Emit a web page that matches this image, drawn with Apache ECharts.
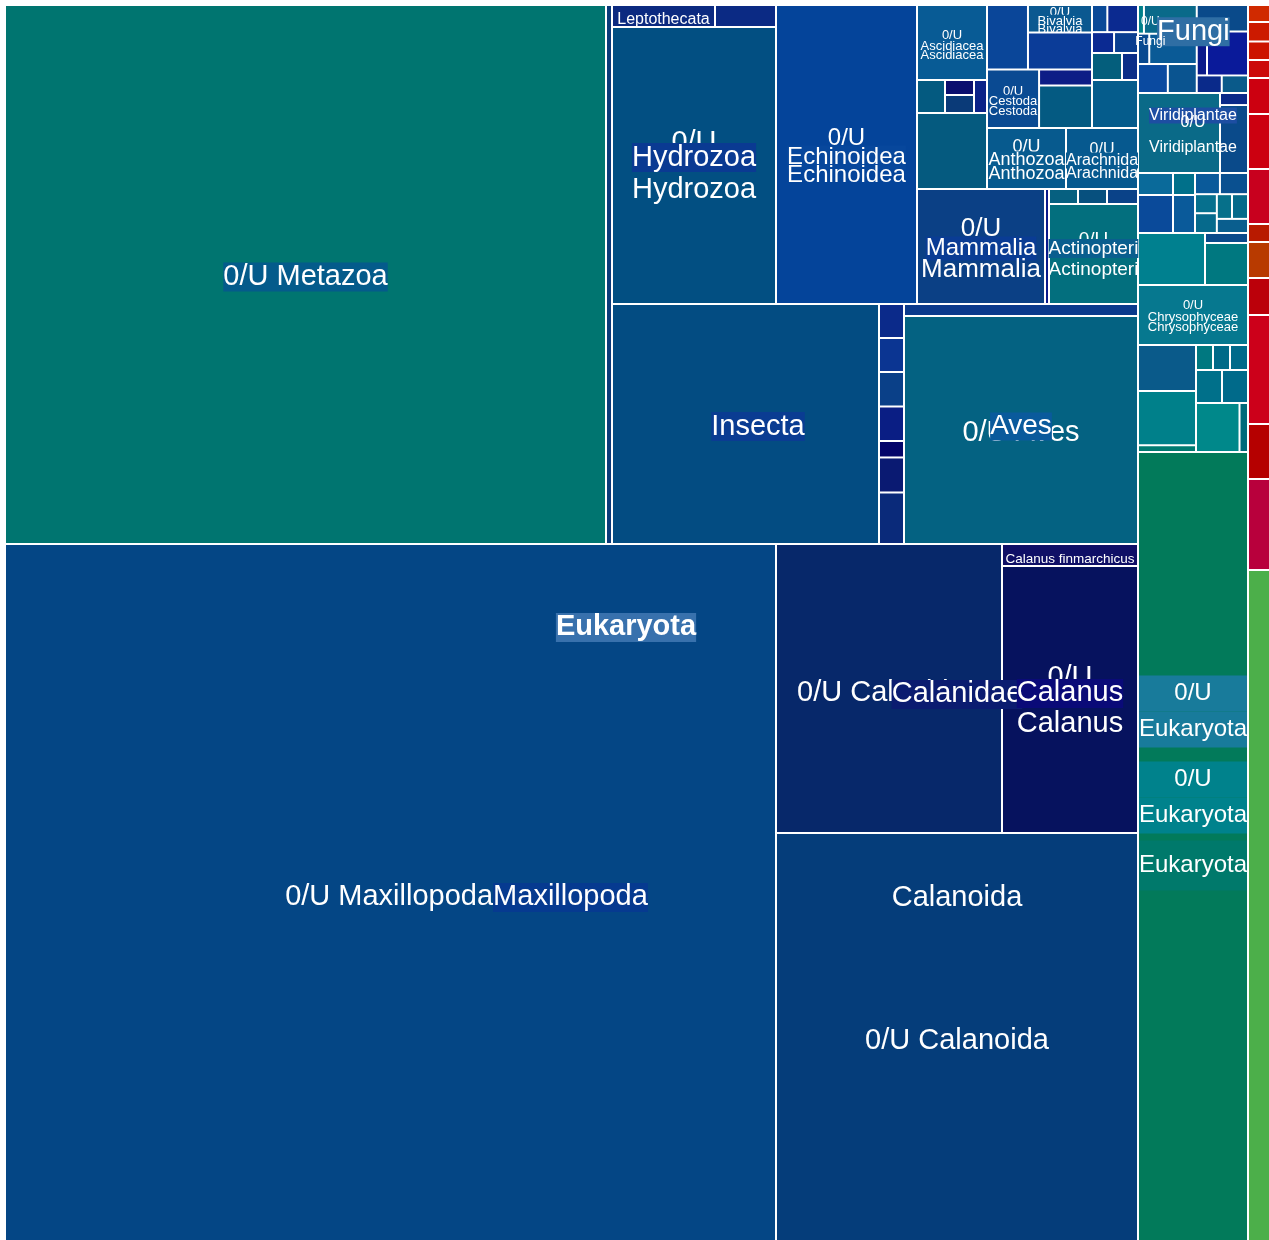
<!DOCTYPE html>
<html>
<head>
<meta charset="utf-8">
<title>Eukaryota treemap</title>
<script src="https://cdn.jsdelivr.net/npm/echarts@6/dist/echarts.min.js"></script>
<style>
  html, body { margin: 0; padding: 0; background: #fff; }
  #chart { width: 1269px; height: 1240px; }
</style>
</head>
<body>
<div id="chart"></div>
<script>
// values (relative cell areas)
var metazoaBase = [['0/U Metazoa', 323939], ['Metazoa a', 3234]];
var hydrozoa = [['Leptothecata', 2266], ['Hydrozoa a', 1342], ['0/U Hydrozoa', 45428]];
var echinoidea = [['0/U Echinoidea', 42159]];
var ascidiacea = [['0/U Ascidiacea', 5250]];
var smallRow = [['Metazoa b', 924], ['Metazoa e', 429]];
var smallPair = [['Metazoa c', 435], ['Metazoa d', 522]];
var smallTeal = [['Metazoa f', 5320]];
var bivalviaCol = [['Metazoa j', 2640], ['0/U Bivalvia', 1760], ['Metazoa i', 2365]];
var cestodaCol = [['0/U Cestoda', 3050], ['Metazoa g', 850], ['Metazoa h', 2250]];
var smallCol = [['Metazoa k', 416], ['Metazoa l', 832], ['Metazoa m', 460], ['Metazoa n', 500],
                ['Metazoa o', 810], ['Metazoa p', 432], ['Metazoa q', 2208]];
var anthozoaRow = [['0/U Anthozoa', 4819], ['0/U Arachnida', 4392]];
var mammalia = [['0/U Mammalia', 14720], ['Metazoa r', 460]];
var actinopteri = [['Metazoa s', 435], ['Metazoa t', 435], ['Metazoa u', 465], ['0/U Actinopteri', 8900]];
var insecta = [['0/U Insecta', 64080], ['Insecta a', 850], ['Insecta b', 850], ['Insecta c', 862],
               ['Insecta d', 862], ['Insecta e', 412], ['Insecta f', 875], ['Insecta g', 1288]];
var aves = [['Aves a', 2808], ['0/U Aves', 53352]];
var maxillopoda = [['0/U Maxillopoda', 537387]];
var calanidae = [['0/U Calanidae', 65314]];
var calanus = [['Calanus finmarchicus', 2992], ['0/U Calanus', 36312]];
var calanoida = [['0/U Calanoida', 147696]];
var fungi = [['Fungi a', 170], ['0/U Fungi', 1512], ['Fungi b', 342], ['Fungi c', 1444], ['Fungi d', 864], ['Fungi e', 838]];
var fungiNext = [['Eukaryota a', 1353], ['Eukaryota b', 451], ['Eukaryota c', 1804], ['Eukaryota d', 440], ['Eukaryota e', 462]];
var viridiplantae = [['0/U Viridiplantae', 6560], ['Viridiplantae a', 338], ['Viridiplantae b', 1902]];
var bandA1 = [['Eukaryota f', 770], ['Eukaryota g', 1330]];
var bandA2 = [['Eukaryota h', 484], ['Eukaryota i', 836]];
var bandA3 = [['Eukaryota j', 528], ['Eukaryota k', 594], ['Eukaryota l', 416], ['Eukaryota m', 432],
              ['Eukaryota n', 374], ['Eukaryota o', 396], ['Eukaryota p', 440]];
var bandB = [['Eukaryota q', 3484], ['Eukaryota r', 430], ['Eukaryota s', 1806]];
var chrysophyceae = [['0/U Chrysophyceae', 6600]];
var lowLeft = [['Eukaryota t', 2668], ['Eukaryota u', 3146], ['Eukaryota v', 392]];
var lowTriple = [['Eukaryota w', 425], ['Eukaryota x', 425], ['Eukaryota y', 450]];
var lowPair = [['Eukaryota z', 858], ['Eukaryota aa', 858]];
var lowRest = [['Eukaryota ab', 2132], ['Eukaryota ac', 416]];
var eukaryota = [['0/U Eukaryota', 86790]];
var bacteria = [['Bacteria 1', 374], ['Bacteria 2', 429], ['Bacteria 3', 407], ['Bacteria 4', 396],
                ['Bacteria 5', 792], ['Bacteria 6', 1210], ['Bacteria 7', 1210], ['Bacteria 8', 396],
                ['Bacteria 9', 792], ['Bacteria 10', 814], ['Bacteria 11', 2398], ['Bacteria 12', 1210],
                ['Bacteria 13', 2002]];
var other = [['other', 14762]];

var FONT = '"Liberation Sans", Arial, sans-serif';

var leafColors = {
  '0/U Metazoa': '#007570', 'Metazoa a': '#0a3a7a',
  'Leptothecata': '#0c2a80', 'Hydrozoa a': '#0b2a84', '0/U Hydrozoa': '#024f82',
  '0/U Echinoidea': '#04449a', '0/U Ascidiacea': '#085b95',
  'Metazoa b': '#045a80', 'Metazoa c': '#0b0f6e', 'Metazoa d': '#0a3a78', 'Metazoa e': '#0b2288', 'Metazoa f': '#055a7f',
  'Metazoa g': '#0d1d86', 'Metazoa h': '#045a82', '0/U Cestoda': '#0a4a92',
  '0/U Bivalvia': '#0b5890', 'Metazoa i': '#0b3c98', 'Metazoa j': '#0a4699',
  'Metazoa k': '#0a4a98', 'Metazoa l': '#0b2a90', 'Metazoa m': '#0b2a92', 'Metazoa n': '#0a3e90',
  'Metazoa o': '#045e7c', 'Metazoa p': '#0b2e88', 'Metazoa q': '#055c8c',
  '0/U Anthozoa': '#075a8e', '0/U Arachnida': '#06598f',
  '0/U Mammalia': '#0b4085', 'Metazoa r': '#0a1a8c',
  'Metazoa s': '#066080', 'Metazoa t': '#07507e', 'Metazoa u': '#0a4288', '0/U Actinopteri': '#036f7e',
  '0/U Insecta': '#034c82', 'Insecta a': '#0b2a8a', 'Insecta b': '#0b3592', 'Insecta c': '#0a4088',
  'Insecta d': '#0a1e84', 'Insecta e': '#05066a', 'Insecta f': '#0a1a72', 'Insecta g': '#0a2a7a',
  'Aves a': '#0b3a8c', '0/U Aves': '#046282',
  '0/U Maxillopoda': '#044685', '0/U Calanidae': '#07286a', 'Calanus finmarchicus': '#0f0f66',
  '0/U Calanus': '#06125e', '0/U Calanoida': '#053d7a',
  'Fungi a': '#00808a', '0/U Fungi': '#0a6a8a', 'Fungi b': '#0a4a90', 'Fungi c': '#0a5a96', 'Fungi d': '#0a4aa0', 'Fungi e': '#0a5490',
  'Eukaryota a': '#0a4a8a', 'Eukaryota b': '#0a1a8a', 'Eukaryota c': '#0a1a9a', 'Eukaryota d': '#0a2a8a', 'Eukaryota e': '#0a5a8a',
  '0/U Viridiplantae': '#0a6a88', 'Viridiplantae a': '#0a2888', 'Viridiplantae b': '#0a4a8a',
  'Eukaryota f': '#0a6a9a', 'Eukaryota g': '#0a4a9a', 'Eukaryota h': '#00708a', 'Eukaryota i': '#0a5a9a',
  'Eukaryota j': '#0a5a9a', 'Eukaryota k': '#0a5090', 'Eukaryota l': '#06708e', 'Eukaryota m': '#066a8c',
  'Eukaryota n': '#06708a', 'Eukaryota o': '#056a8a', 'Eukaryota p': '#0a5e8e',
  'Eukaryota q': '#00808f', 'Eukaryota r': '#0a4a8a', 'Eukaryota s': '#007880',
  '0/U Chrysophyceae': '#06788f',
  'Eukaryota t': '#0a5a8a', 'Eukaryota u': '#00808a', 'Eukaryota v': '#007a70',
  'Eukaryota w': '#007880', 'Eukaryota x': '#006a88', 'Eukaryota y': '#006a8a',
  'Eukaryota z': '#00708a', 'Eukaryota aa': '#006a8a', 'Eukaryota ab': '#00888a', 'Eukaryota ac': '#006a7a',
  '0/U Eukaryota': '#027a5a',
  'Bacteria 1': '#d02a00', 'Bacteria 2': '#cc1a00', 'Bacteria 3': '#cc1400', 'Bacteria 4': '#cc0a0a',
  'Bacteria 5': '#cc0010', 'Bacteria 6': '#cc0010', 'Bacteria 7': '#c8001e', 'Bacteria 8': '#b81a00',
  'Bacteria 9': '#b83a00', 'Bacteria 10': '#bb000a', 'Bacteria 11': '#cc001a', 'Bacteria 12': '#b50000',
  'Bacteria 13': '#b8003c',
  'other': '#4caf4a'
};

// label lines: each token {t, fs, lh, bg, w, h, va, bold}; dy = block centre offset from cell centre
function tri(name, fs, l1, l2, l3, bg, dy) {
  return { dy: dy, lines: [[{ t: '0/U', fs: fs, lh: l1 }], [{ t: name, fs: fs, lh: l2, bg: bg }], [{ t: name, fs: fs, lh: l3 }]] };
}
var labelSpecs = {
  '0/U Metazoa': { dy: 0, lines: [[{ t: '0/U Metazoa', fs: 29, lh: 32, bg: '#045b8b' }]] },
  '0/U Maxillopoda': { dy: -132.5, lines: [
    [{ t: ' ', w: 471, lh: 34 }, { t: 'Eukaryota', fs: 29, lh: 34, bold: true, bg: '#3871ad' }],
    [{ t: ' ', lh: 236 }],
    [{ t: ' ', w: 152, lh: 34 }, { t: '0/U Maxillopoda', fs: 29, lh: 34 }, { t: 'Maxillopoda', fs: 29, lh: 34, bg: '#063a90' }]
  ] },
  '0/U Calanoida': { dy: -69.5, lines: [
    [{ t: 'Calanoida', fs: 29, lh: 34 }], [{ t: ' ', lh: 109 }], [{ t: '0/U Calanoida', fs: 29, lh: 34 }]
  ] },
  '0/U Calanidae': { dy: 3, lines: [
    [{ t: '0/U Calanidae', fs: 29, lh: 1 }],
    [{ t: ' ', w: 136, lh: 1 }, { t: 'Calanidae', fs: 29, lh: 1, bg: '#0b1c70' }]
  ] },
  'Calanus finmarchicus': { dy: 2, lines: [[{ t: 'Calanus finmarchicus', fs: 13.5, lh: 15 }]] },
  '0/U Calanus': tri('Calanus', 29, 2, 28, 34, '#0a0a78', 7.5),
  '0/U Insecta': { dy: 0, lines: [[{ t: ' ', w: 25, lh: 32 }, { t: 'Insecta', fs: 29, lh: 32, bg: '#0a3c92' }]] },
  '0/U Aves': { dy: 3.5, lines: [
    [{ t: '0/U Aves', fs: 29, lh: 2 }],
    [{ t: 'Aves', fs: 28, lh: 7, va: 'bottom', bg: '#0a5a9c' }]
  ] },
  '0/U Hydrozoa': tri('Hydrozoa', 29, 2, 28, 36, '#0a3a92', 6.5),
  'Leptothecata': { dy: 1, lines: [[{ t: 'Leptothecata', fs: 16, lh: 18 }]] },
  '0/U Echinoidea': tri('Echinoidea', 24, 10, 28, 8, '#07479c', -0.5),
  '0/U Ascidiacea': tri('Ascidiacea', 13, 8, 14, 4, '#0a5c98', -0.5),
  '0/U Bivalvia': tri('Bivalvia', 13, 7, 10, 7, '#0b5a92', 0),
  '0/U Cestoda': tri('Cestoda', 13, 8, 12, 8, '#0a4c94', 0),
  '0/U Anthozoa': tri('Anthozoa', 18, 8, 18, 10, '#085c90', 0.5),
  '0/U Arachnida': tri('Arachnida', 16, 6, 16, 10, '#075a90', 1.5),
  '0/U Mammalia': { dy: 0.5, lines: [
    [{ t: '0/U', fs: 26, lh: 14 }], [{ t: 'Mammalia', fs: 24, lh: 26, bg: '#0a3c94' }], [{ t: 'Mammalia', fs: 26, lh: 16 }]
  ] },
  '0/U Actinopteri': tri('Actinopteri', 19, 2, 16, 26, '#0a5e8e', 4),
  '0/U Chrysophyceae': tri('Chrysophyceae', 13, 12, 12, 8, '#077a92', -2),
  '0/U Viridiplantae': { dy: 5, lines: [
    [{ t: ' ', w: 28, lh: 2 }, { t: 'Viridiplantae', fs: 16, lh: 2, bg: '#1d4ea2' }],
    [{ t: ' ', w: 28, lh: 12 }, { t: '0/U', fs: 16, lh: 12 }],
    [{ t: ' ', w: 28, lh: 38 }, { t: 'Viridiplantae', fs: 16, lh: 38 }]
  ] },
  '0/U Fungi': { dy: 10, lines: [
    [{ t: '0/U', fs: 12, lh: 1 }, { t: ' ', w: 40, lh: 1 }],
    [{ t: ' ', w: 46, lh: 19 }, { t: 'Fungi', fs: 29, lh: 19, bg: '#2f6ea4' }],
    [{ t: 'Fungi', fs: 12, lh: 1 }, { t: ' ', w: 40, lh: 1 }]
  ] },
  '0/U Eukaryota': { dy: -65.5, lines: [
    [{ t: '0/U', fs: 24, lh: 36, w: 108, h: 36, bg: '#187b9b' }],
    [{ t: 'Eukaryota', fs: 24, lh: 36, w: 108, h: 36, bg: '#187b9b' }],
    [{ t: '0/U', fs: 24, lh: 64, w: 108, h: 36, bg: '#00828c' }],
    [{ t: 'Eukaryota', fs: 24, lh: 8, w: 108, h: 36, bg: '#00828c' }],
    [{ t: ' ', lh: 20 }],
    [{ t: 'Eukaryota', fs: 24, lh: 52, w: 108, h: 50, bg: '#00796b' }]
  ] }
};

function leaves(list) {
  return list.map(function (p) { return { name: p[0], value: p[1] }; });
}
function group(name, children) {
  return { name: name, children: children };
}

function buildTree() {
  return [
    group('Eukaryota', [
      group('Metazoa', [
        group('Metazoa top', [
          group('Metazoa base', leaves(metazoaBase)),
          group('Metazoa rest', [
            group('Metazoa upper', [
              group('Hydrozoa', leaves(hydrozoa)),
              leaves(echinoidea)[0],
              group('Metazoa small', [
                group('Small top', [
                  group('Small left', [
                    leaves(ascidiacea)[0],
                    group('Small row', [leaves(smallRow)[0], group('Small pair', leaves(smallPair)), leaves(smallRow)[1]]),
                    leaves(smallTeal)[0]
                  ]),
                  group('Small right', [
                    group('Small upper', [
                      group('Bivalvia col', leaves(bivalviaCol)),
                      group('Cestoda col', leaves(cestodaCol)),
                      group('Small col', leaves(smallCol))
                    ]),
                    group('Anthozoa row', leaves(anthozoaRow))
                  ])
                ]),
                group('Small bottom', [
                  group('Mammalia', leaves(mammalia)),
                  group('Actinopteri', leaves(actinopteri))
                ])
              ])
            ]),
            group('Metazoa lower', [
              group('Insecta', leaves(insecta)),
              group('Aves', leaves(aves))
            ])
          ])
        ]),
        group('Maxillopoda', [
          leaves(maxillopoda)[0],
          group('Calanoida', [
            group('Calanidae', [leaves(calanidae)[0], group('Calanus', leaves(calanus))]),
            leaves(calanoida)[0]
          ])
        ])
      ]),
      group('Fungi', [group('Fungi main', leaves(fungi)), group('Fungi next', leaves(fungiNext))]),
      group('Viridiplantae', leaves(viridiplantae)),
      group('Eukaryota mid', [
        group('Band A', [group('Band A1', leaves(bandA1)), group('Band A2', leaves(bandA2)), group('Band A3', leaves(bandA3))]),
        group('Band B', leaves(bandB))
      ]),
      leaves(chrysophyceae)[0],
      group('Eukaryota low', [
        group('Low left', leaves(lowLeft)),
        group('Low right', [group('Low triple', leaves(lowTriple)), group('Low pair', leaves(lowPair))].concat(leaves(lowRest)))
      ]),
      leaves(eukaryota)[0]
    ]),
    group('Bacteria', leaves(bacteria)),
    leaves(other)[0]
  ];
}

function makeLabel(spec, h) {
  var rich = {}, k = 0, total = 0;
  var text = spec.lines.map(function (line) {
    var lh = 0;
    var s = line.map(function (tok) {
      var key = 't' + (k++);
      var st = { fontSize: tok.fs || 12, fontFamily: FONT, color: '#fff', lineHeight: tok.lh, align: 'center',
                 fontWeight: tok.bold ? 'bold' : 'normal' };
      if (tok.bg) st.backgroundColor = tok.bg;
      if (tok.w) st.width = tok.w;
      if (tok.h) st.height = tok.h;
      if (tok.va) st.verticalAlign = tok.va;
      rich[key] = st;
      lh = Math.max(lh, tok.lh);
      return '{' + key + '|' + tok.t + '}';
    }).join('');
    total += lh;
    return s;
  }).join('\n');
  // lines start at the top of the cell, so push the block down to the wanted centre
  var shift = h ? (h - 2) / 2 + spec.dy + 2.5 - total / 2 : 0;
  return { show: true, formatter: text, rich: rich, padding: 0, offset: [0, shift], overflow: 'none', align: 'center' };
}

function decorate(nodes, heights) {
  nodes.forEach(function (n) {
    if (n.children) { decorate(n.children, heights); return; }
    n.itemStyle = { color: leafColors[n.name] || '#0a4a8a', borderWidth: 1, borderColor: '#fff' };
    if (labelSpecs[n.name]) n.label = makeLabel(labelSpecs[n.name], heights[n.name]);
  });
  return nodes;
}

var chart = echarts.init(document.getElementById('chart'));

function makeOption(heights) {
  return {
    backgroundColor: '#fff',
    animation: false,
    series: [{
      type: 'treemap',
      left: 5, top: 5, width: 1265, height: 1236,
      sort: false,
      squareRatio: 1,
      roam: false,
      nodeClick: false,
      visibleMin: 0,
      breadcrumb: { show: false },
      label: { show: false, overflow: 'none', fontFamily: FONT },
      upperLabel: { show: false },
      itemStyle: { borderWidth: 0, gapWidth: 0, borderColor: '#fff' },
      data: decorate(buildTree(), heights)
    }]
  };
}

chart.setOption(makeOption({}));

// second pass: place each label block using the cell heights the layout produced
var heights = {};
var model = chart.getModel ? chart.getModel() : null;
if (model) {
  var sdata = model.getSeriesByIndex(0).getData();
  for (var i = 0; i < sdata.count(); i++) {
    var ly = sdata.getItemLayout(i);
    if (ly) heights[sdata.getName(i)] = ly.height;
  }
  chart.setOption(makeOption(heights), true);
}
</script>
</body>
</html>
